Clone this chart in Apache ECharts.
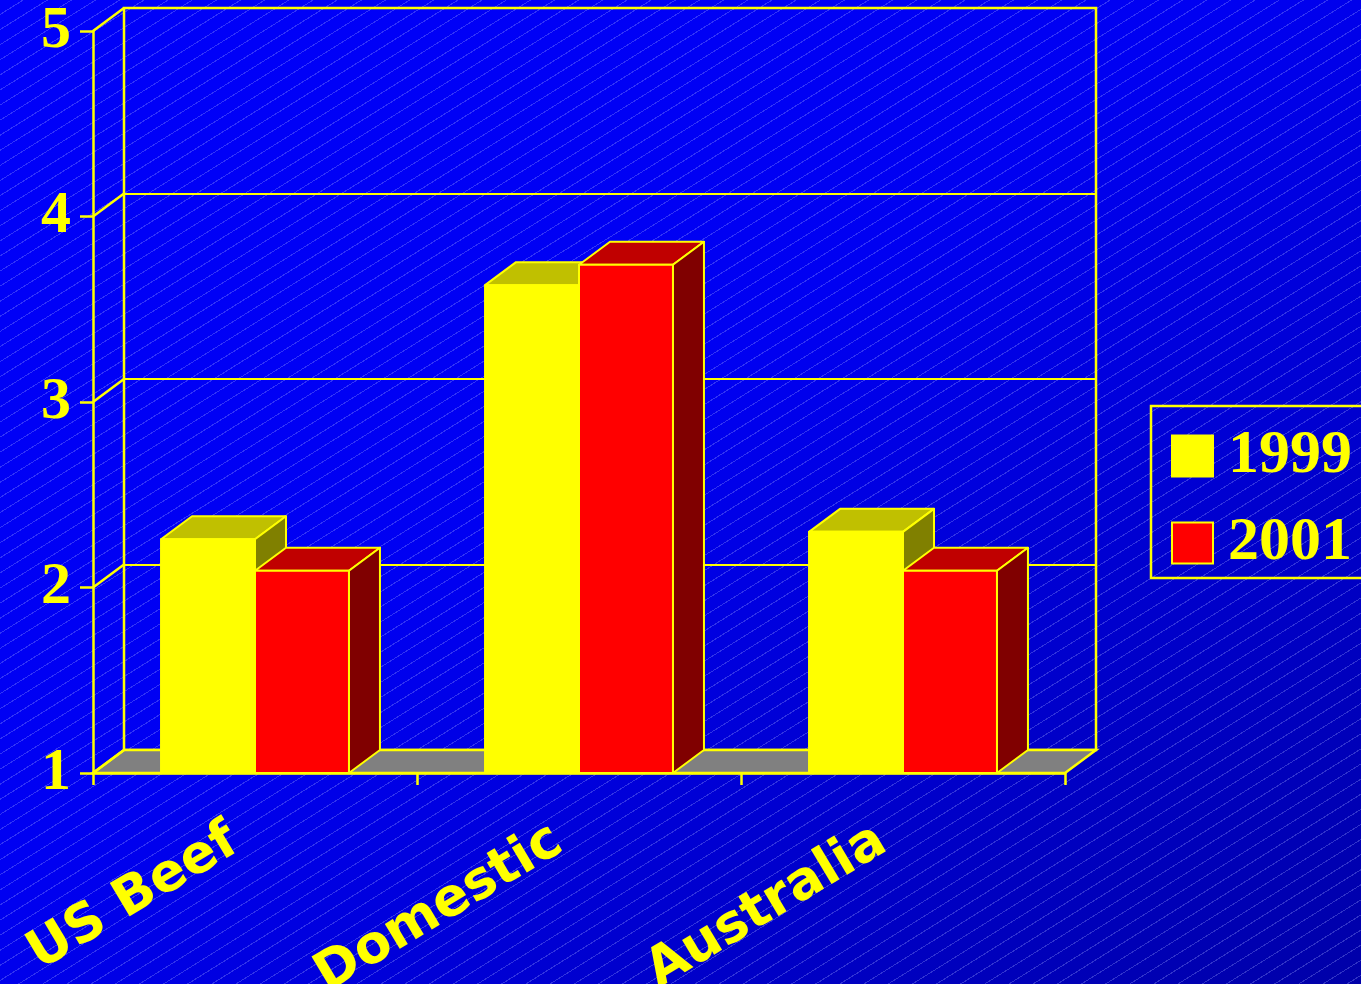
<!DOCTYPE html>
<html><head><meta charset="utf-8">
<script src="https://cdn.jsdelivr.net/npm/echarts@6/dist/echarts.min.js"></script>
<style>
html,body{margin:0;padding:0;width:1361px;height:984px;overflow:hidden;}
body{background:
 repeating-linear-gradient(148deg, rgba(0,0,0,0) 0px, rgba(0,0,0,0) 11.8px, rgba(160,170,255,0.3) 11.8px, rgba(160,170,255,0.3) 12.8px),
 linear-gradient(to bottom right, #0000fa 0%, #0000f2 45%, #0000a8 100%);}
#chart{width:1361px;height:984px;}
</style></head><body><div id="chart"></div>
<script>
// ---- data ----
const categories = ['US Beef', 'Domestic', 'Australia'];
const seriesNames = ['1999', '2001'];
const values1999 = [2.26, 3.63, 2.30];
const values2001 = [2.09, 3.74, 2.09];
const yMin = 1, yMax = 5, yStep = 1;
const yTicks = [1, 2, 3, 4, 5];

// ---- style constants ----
const DX = 31, DY = -23;
const YEL = '#ffff00';
const faces = {
  '1999': { front: '#ffff00', top: '#c0c000', side: '#808000' },
  '2001': { front: '#ff0000', top: '#c00000', side: '#800000' }
};

const chart = echarts.init(document.getElementById('chart'), null, { renderer: 'canvas' });

function barRender(name, idx) {
  return function (params, api) {
    const cat = api.value(0), v = api.value(1);
    const top = api.coord([cat, v]);
    const base = api.coord([cat, yMin]);
    const band = api.size([1, 0])[0];
    const w = band * 0.29;
    const cx = top[0];
    const xl = idx === 0 ? cx - w : cx;
    const xr = idx === 0 ? cx : cx + w;
    const yt = top[1], yb = base[1];
    const f = faces[name];
    const st = { stroke: YEL, lineWidth: 2, lineJoin: 'round' };
    return {
      type: 'group',
      children: [
        { type: 'polygon', shape: { points: [[xl, yt], [xr, yt], [xr + DX, yt + DY], [xl + DX, yt + DY]] }, style: Object.assign({ fill: f.top }, st) },
        { type: 'polygon', shape: { points: [[xr, yt], [xr, yb], [xr + DX, yb + DY], [xr + DX, yt + DY]] }, style: Object.assign({ fill: f.side }, st) },
        { type: 'rect', shape: { x: xl, y: yt, width: xr - xl, height: yb - yt }, style: Object.assign({ fill: f.front }, st) }
      ]
    };
  };
}

function frameRender(params, api) {
  const cs = params.coordSys;
  const x0 = cs.x, x1 = cs.x + cs.width;
  const yb = api.coord([0, yMin])[1];
  const children = [];
  children.push({ type: 'polygon', shape: { points: [[x0, yb], [x1, yb], [x1 + DX, yb + DY], [x0 + DX, yb + DY]] },
    style: { fill: '#808080', stroke: YEL, lineWidth: 2.5 } });
  yTicks.forEach(function (t) {
    const y = api.coord([0, t])[1];
    children.push({ type: 'line', shape: { x1: x0, y1: y, x2: x0 + DX, y2: y + DY }, style: { stroke: YEL, lineWidth: 2.5 } });
  });
  return { type: 'group', children: children };
}

const yLabelFont = { color: YEL, fontFamily: 'Liberation Serif', fontWeight: 'bold', fontSize: 60 };

chart.setOption({
  animation: false,
  backgroundColor: 'transparent',
  grid: [
    { left: 93, top: 31, width: 972, height: 742, containLabel: false, outerBoundsMode: 'none' },
    { left: 124, top: 8, width: 972, height: 742, containLabel: false, outerBoundsMode: 'none',
      show: true, borderColor: YEL, borderWidth: 2.5, backgroundColor: 'transparent' }
  ],
  xAxis: [
    { type: 'category', gridIndex: 0, data: categories, boundaryGap: true,
      axisLine: { show: true, lineStyle: { color: YEL, width: 2.5 } },
      axisTick: { show: true, length: 12, lineStyle: { color: YEL, width: 2.5 } },
      axisLabel: { rotate: 31, margin: 52, padding: [0, 24, 0, 0], color: YEL, fontFamily: 'DejaVu Sans', fontWeight: 'bold', fontSize: 53, interval: 0 },
      z: 10 },
    { type: 'category', gridIndex: 1, data: categories, show: false }
  ],
  yAxis: [
    { type: 'value', gridIndex: 0, min: yMin, max: yMax, interval: yStep,
      axisLine: { show: true, lineStyle: { color: YEL, width: 2.5 } },
      axisTick: { show: true, inside: false, length: 13, lineStyle: { color: YEL, width: 2.5 } },
      splitLine: { show: false },
      axisLabel: Object.assign({ margin: 22, padding: [12, 0, 0, 0] }, yLabelFont),
      z: 10 },
    { type: 'value', gridIndex: 1, min: yMin, max: yMax, interval: yStep,
      axisLine: { show: false }, axisTick: { show: false }, axisLabel: { show: false },
      splitLine: { show: true, lineStyle: { color: YEL, width: 2 } } }
  ],
  legend: {
    orient: 'vertical', left: 1151, top: 406,
    padding: [19, 80, 4, 20], itemGap: 25, itemWidth: 41, itemHeight: 41,
    borderColor: YEL, borderWidth: 2.5, icon: 'rect',
    textStyle: { color: YEL, fontFamily: 'Liberation Serif', fontWeight: 'bold', fontSize: 62, padding: [4, 0, 0, 10] },
    data: [
      { name: seriesNames[0], itemStyle: { color: faces['1999'].front, borderColor: YEL, borderWidth: 2 } },
      { name: seriesNames[1], itemStyle: { color: faces['2001'].front, borderColor: YEL, borderWidth: 2 } }
    ]
  },
  series: [
    { type: 'custom', name: 'frame', xAxisIndex: 0, yAxisIndex: 0, data: [[0, yMin]], renderItem: frameRender, z: 1, silent: true },
    { type: 'custom', name: seriesNames[0], xAxisIndex: 0, yAxisIndex: 0, z: 3,
      itemStyle: { color: faces['1999'].front },
      data: values1999.map(function (v, i) { return [i, v]; }), renderItem: barRender('1999', 0) },
    { type: 'custom', name: seriesNames[1], xAxisIndex: 0, yAxisIndex: 0, z: 4,
      itemStyle: { color: faces['2001'].front },
      data: values2001.map(function (v, i) { return [i, v]; }), renderItem: barRender('2001', 1) }
  ]
});
</script></body></html>
